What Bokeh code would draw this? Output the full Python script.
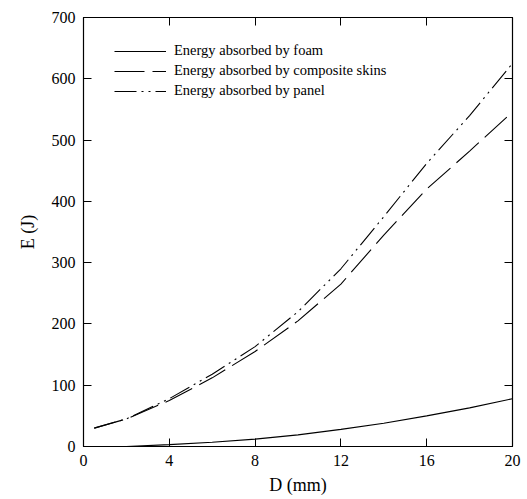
from bokeh.plotting import figure
from bokeh.models import Range1d, LinearAxis, FixedTicker, Legend, LegendItem, CustomJSTickFormatter
from bokeh.embed import file_html
from bokeh.resources import INLINE

x_skin = [0.5, 2, 4, 6, 8, 10, 12, 14, 16, 18, 20]
e_panel = [30, 45, 78, 118, 163, 220, 290, 375, 462, 540, 625]
e_skin = [30, 45, 75, 112, 155, 205, 265, 345, 420, 482, 546]
x_foam = [2, 4, 6, 8, 10, 12, 14, 16, 18, 20]
e_foam = [0, 3, 7, 12, 19, 28, 38, 50, 63, 78]
x_ticks = [0, 4, 8, 12, 16, 20]
y_ticks = [0, 100, 200, 300, 400, 500, 600, 700]

FONT = "'Liberation Serif', 'Times New Roman', serif"

p = figure(width=522, height=497, output_backend="svg", toolbar_location=None,
           x_range=Range1d(0, 20), y_range=Range1d(0, 700),
           min_border_left=83, min_border_right=10, min_border_top=17, min_border_bottom=51)
p.xgrid.visible = False
p.ygrid.visible = False
p.outline_line_color = "black"
p.outline_line_width = 1.2

for ax, ticks in ((p.xaxis[0], x_ticks), (p.yaxis[0], y_ticks)):
    ax.ticker = FixedTicker(ticks=ticks)
    ax.major_tick_in = 8
    ax.major_tick_out = 0
    ax.minor_tick_line_color = None
    ax.axis_line_color = "black"
    ax.major_tick_line_color = "black"
    ax.major_label_text_font = FONT
    ax.major_label_text_font_size = "16px"
    ax.major_label_text_color = "black"
    ax.axis_label_text_font = FONT
    ax.axis_label_text_font_size = "18px"
    ax.axis_label_text_font_style = "normal"
    ax.axis_label_text_color = "black"

p.xaxis.axis_label = "D (mm)"
p.yaxis.axis_label = "E (J)"
p.xaxis.major_label_standoff = 8
p.yaxis.major_label_standoff = 8
p.xaxis.axis_label_standoff = 6
p.yaxis.axis_label_standoff = 11

blank = CustomJSTickFormatter(code="return ''")
top = LinearAxis(ticker=FixedTicker(ticks=x_ticks), major_tick_in=8, major_tick_out=0,
                 minor_tick_line_color=None, formatter=blank, major_label_standoff=0)
right = LinearAxis(ticker=FixedTicker(ticks=y_ticks), major_tick_in=8, major_tick_out=0,
                   minor_tick_line_color=None, formatter=blank, major_label_standoff=0)
p.add_layout(top, "above")
p.add_layout(right, "right")

r_foam = p.line(x_foam, e_foam, line_color="black", line_width=1.1)
r_skin = p.line(x_skin, e_skin, line_color="black", line_width=1.1, line_dash="30 8")
r_panel = p.line(x_skin, e_panel, line_color="black", line_width=1.1, line_dash="22 5 2 5 2 5")

legend = Legend(items=[
    LegendItem(label="Energy absorbed by foam", renderers=[r_foam]),
    LegendItem(label="Energy absorbed by composite skins", renderers=[r_skin]),
    LegendItem(label="Energy absorbed by panel", renderers=[r_panel]),
], location=(31, 347))
legend.border_line_color = None
legend.background_fill_alpha = 0
legend.label_text_font = FONT
legend.label_text_font_size = "14.5px"
legend.label_text_color = "black"
legend.glyph_width = 52
legend.glyph_height = 16
legend.label_height = 16
legend.spacing = 3
legend.margin = 0
legend.padding = 0
legend.label_standoff = 8
p.add_layout(legend)

open("out.html", "w").write(file_html(p, INLINE))
